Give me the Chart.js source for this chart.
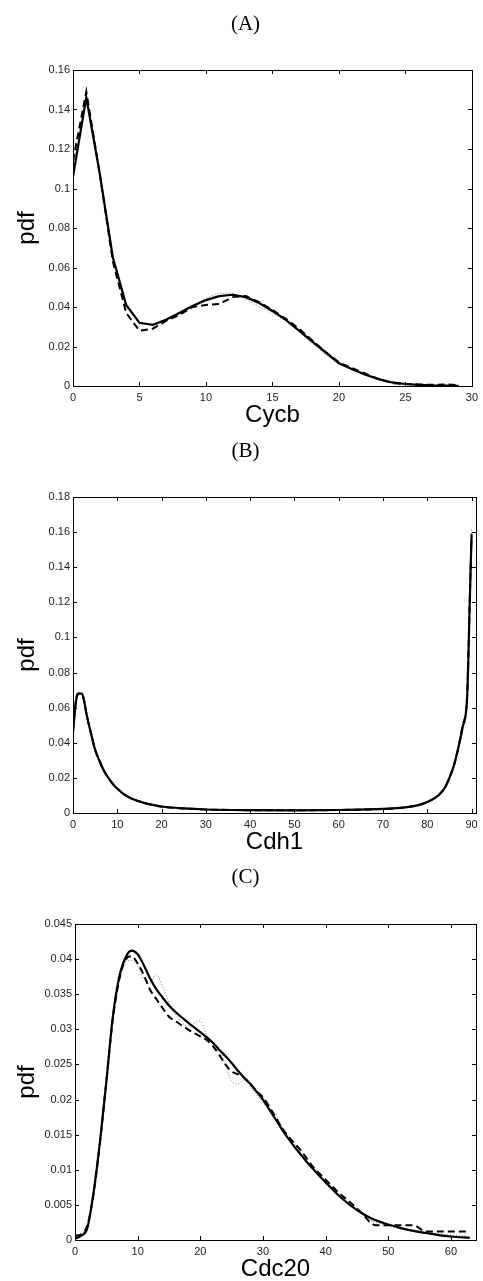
<!DOCTYPE html>
<html>
<head>
<meta charset="utf-8">
<script src="https://cdn.jsdelivr.net/npm/chart.js@4.4.1/dist/chart.umd.min.js"></script>
<style>
  html, body { margin: 0; padding: 0; background: #fff; }
  #wrap { position: relative; width: 483px; height: 1281px; }
  canvas { position: absolute; left: 0; }
</style>
</head>
<body>
<div id="wrap">
  <canvas id="chartA" width="483" height="440" style="top:0px"></canvas>
  <canvas id="chartB" width="483" height="440" style="top:427px"></canvas>
  <canvas id="chartC" width="483" height="427" style="top:854px"></canvas>
</div>
<script>
// (A) Cycb
const cycbX = [0, 1, 2, 3, 4, 5, 6, 7, 8, 9, 10, 11, 12, 13, 14, 15, 16, 17, 18, 19, 20, 21, 22, 23, 24, 25, 26, 27, 28, 29];
const cycbSolid = [0.106, 0.146, 0.108, 0.065, 0.041, 0.032, 0.031, 0.0335, 0.037, 0.0405, 0.0435, 0.0455, 0.0462, 0.045, 0.042, 0.038, 0.0335, 0.028, 0.0225, 0.017, 0.0115, 0.0085, 0.0057, 0.0035, 0.0018, 0.001, 0.0006, 0.0003, 0.0002, 0.0001];
const cycbDashed = [0.114, 0.149, 0.108, 0.063, 0.037, 0.028, 0.029, 0.033, 0.036, 0.040, 0.041, 0.0415, 0.045, 0.0455, 0.0425, 0.0385, 0.034, 0.029, 0.023, 0.0172, 0.012, 0.009, 0.0062, 0.0035, 0.0015, 0.001, 0.0008, 0.0006, 0.0008, 0.0005];
const cycbDotted = [0.110, 0.147, 0.109, 0.066, 0.040, 0.0315, 0.031, 0.034, 0.0375, 0.041, 0.0445, 0.047, 0.047, 0.044, 0.040, 0.037, 0.033, 0.0275, 0.0215, 0.016, 0.0112, 0.008, 0.0055, 0.003, 0.0015, 0.0008, 0.0005, 0.0003, 0.0002, 0.0001];

// (B) Cdh1
const cdh1X = [0, 0.7, 1.2, 2, 2.5, 3, 4, 5, 6, 7, 8, 9, 10, 12, 14, 16, 18, 20, 25, 30, 40, 50, 60, 70, 75, 78, 80, 82, 83, 84, 85, 86, 87, 88, 89, 89.6, 90];
const cdh1Solid = [0.046, 0.064, 0.068, 0.068, 0.064, 0.057, 0.046, 0.036, 0.0295, 0.024, 0.020, 0.0165, 0.0138, 0.0098, 0.0074, 0.0058, 0.0046, 0.0037, 0.0026, 0.0020, 0.0016, 0.0015, 0.0017, 0.0023, 0.0032, 0.0045, 0.0062, 0.0090, 0.0112, 0.0145, 0.0200, 0.027, 0.037, 0.049, 0.066, 0.121, 0.158];
const cdh1Dashed = [0.047, 0.065, 0.068, 0.068, 0.064, 0.057, 0.046, 0.036, 0.0297, 0.024, 0.020, 0.0166, 0.0139, 0.0099, 0.0075, 0.0058, 0.0046, 0.0036, 0.0026, 0.0020, 0.0016, 0.0015, 0.0017, 0.0023, 0.0032, 0.0045, 0.0063, 0.0090, 0.0113, 0.0146, 0.0202, 0.027, 0.037, 0.050, 0.067, 0.122, 0.159];
const cdh1Dotted = [0.045, 0.063, 0.067, 0.068, 0.065, 0.058, 0.047, 0.037, 0.030, 0.0245, 0.0205, 0.017, 0.014, 0.0100, 0.0078, 0.0060, 0.0045, 0.0038, 0.0027, 0.0021, 0.0017, 0.0016, 0.0018, 0.0024, 0.0033, 0.0047, 0.0066, 0.0093, 0.0115, 0.0150, 0.0205, 0.028, 0.038, 0.051, 0.068, 0.125, 0.162];

// (C) Cdc20
const cdc20X = [0, 1, 2, 3, 4, 5, 6, 7, 8, 9, 10, 11, 12, 13, 14, 15, 16, 18, 20, 21, 22, 23, 24, 25, 26, 27, 28, 29, 30, 31, 32, 33, 34, 35, 36, 37, 38, 40, 42, 44, 46, 47, 48, 50, 52, 54, 56, 58, 60, 63];
const cdc20Solid = [0.0002, 0.0006, 0.0018, 0.0070, 0.0141, 0.0225, 0.0315, 0.0372, 0.0401, 0.0412, 0.0407, 0.0391, 0.0372, 0.0357, 0.0345, 0.0334, 0.0325, 0.0310, 0.0296, 0.0289, 0.0281, 0.0271, 0.0262, 0.0252, 0.0241, 0.0231, 0.0222, 0.0211, 0.0200, 0.0186, 0.0172, 0.0158, 0.0145, 0.0133, 0.0122, 0.0111, 0.0101, 0.0082, 0.0064, 0.0049, 0.0037, 0.0032, 0.0028, 0.0022, 0.0017, 0.0013, 0.0010, 0.0007, 0.0005, 0.0003];
const cdc20Dashed = [0.0006, 0.0008, 0.0022, 0.0068, 0.0140, 0.0225, 0.0312, 0.0368, 0.0398, 0.0404, 0.0394, 0.0377, 0.0356, 0.0343, 0.0330, 0.0318, 0.0312, 0.0300, 0.0290, 0.0285, 0.0276, 0.0264, 0.0250, 0.0240, 0.0236, 0.0231, 0.0222, 0.0212, 0.0203, 0.0190, 0.0175, 0.0160, 0.0148, 0.0138, 0.0128, 0.0116, 0.0104, 0.0086, 0.0068, 0.0053, 0.0036, 0.0026, 0.0021, 0.0021, 0.0021, 0.0021, 0.0012, 0.0012, 0.0012, 0.0012];
const cdc20Dotted = [0.0005, 0.0009, 0.0021, 0.0072, 0.0146, 0.0228, 0.0318, 0.0378, 0.0396, 0.0398, 0.0390, 0.0372, 0.0368, 0.0378, 0.0360, 0.0338, 0.0322, 0.0305, 0.0312, 0.0292, 0.0282, 0.0272, 0.0250, 0.0226, 0.0222, 0.0228, 0.0218, 0.0206, 0.0196, 0.0186, 0.0180, 0.0162, 0.0150, 0.0136, 0.0124, 0.0112, 0.0100, 0.0084, 0.0066, 0.0049, 0.0036, 0.0030, 0.0025, 0.0020, 0.0016, 0.0014, 0.0012, 0.0009, 0.0007, 0.0005];

Chart.defaults.font.family = '"Liberation Sans", Arial, sans-serif';
Chart.defaults.color = '#000';

// matlab style box with inward ticks on all four sides
const boxTicks = {
  id: 'boxTicks',
  afterDraw(chart) {
    const { ctx, chartArea: a, scales: { x, y } } = chart;
    ctx.save();
    ctx.strokeStyle = '#000';
    ctx.lineWidth = 1;
    ctx.strokeRect(Math.round(a.left) + 0.5, Math.round(a.top) + 0.5, Math.round(a.right - a.left), Math.round(a.bottom - a.top));
    ctx.beginPath();
    x.ticks.forEach(t => {
      const px = Math.round(x.getPixelForValue(t.value)) + 0.5;
      ctx.moveTo(px, a.bottom); ctx.lineTo(px, a.bottom - 4);
      ctx.moveTo(px, a.top); ctx.lineTo(px, a.top + 4);
    });
    y.ticks.forEach(t => {
      const py = Math.round(y.getPixelForValue(t.value)) + 0.5;
      ctx.moveTo(a.left, py); ctx.lineTo(a.left + 4, py);
      ctx.moveTo(a.right, py); ctx.lineTo(a.right - 4, py);
    });
    ctx.stroke();
    ctx.restore();
  }
};

const toPoints = (xs, ys) => xs.map((v, i) => ({ x: v, y: ys[i] }));

function makeChart(id, opts) {
  new Chart(document.getElementById(id), {
    type: 'line',
    data: {
      datasets: [
        { data: toPoints(opts.xs, opts.solid), borderColor: '#000', borderWidth: 2.2 },
        { data: toPoints(opts.xs, opts.dashed), borderColor: '#000', borderWidth: 2, borderDash: [7, 4] },
        { data: toPoints(opts.xs, opts.dotted), borderColor: '#777', borderWidth: 1, borderDash: [1, 2] }
      ]
    },
    options: {
      responsive: false,
      animation: false,
      devicePixelRatio: 1,
      elements: {
        point: { radius: 0 },
        line: { tension: 0, cubicInterpolationMode: opts.smooth ? 'monotone' : 'default' }
      },
      layout: { padding: { left: 15, right: 7, top: 0, bottom: opts.padBottom } },
      plugins: {
        legend: { display: false },
        tooltip: { enabled: false },
        title: {
          display: true,
          text: opts.title,
          color: '#000',
          font: { family: '"Liberation Serif", "Times New Roman", serif', size: 21, weight: 'normal', lineHeight: 1 },
          padding: { top: opts.titleTop, bottom: 70 - opts.titleTop - 21 }
        }
      },
      scales: {
        x: {
          type: 'linear',
          min: 0,
          max: opts.xMax,
          grid: { display: false, drawTicks: false },
          border: { display: false },
          ticks: { stepSize: opts.xStep, includeBounds: false, padding: 5, font: { size: 11 }, color: '#222', maxRotation: 0 },
          title: { display: true, text: opts.xLabel, padding: 0, font: { size: 24, lineHeight: 1 } },
          afterFit: s => { s.height = 41; }
        },
        y: {
          min: 0,
          max: opts.yMax,
          grid: { display: false, drawTicks: false },
          border: { display: false },
          ticks: {
            stepSize: opts.yStep, includeBounds: false, padding: 3, font: { size: 11 }, color: '#222',
            callback: v => String(+v.toFixed(4))
          },
          title: { display: true, text: 'pdf', padding: 0, font: { size: 24, lineHeight: 1 } },
          afterFit: s => { s.width = opts.yWidth; }
        }
      }
    },
    plugins: [boxTicks]
  });
}

makeChart('chartA', {
  title: '(A)', xLabel: 'Cycb', xs: cycbX, solid: cycbSolid, dashed: cycbDashed, dotted: cycbDotted,
  xMax: 30, xStep: 5, yMax: 0.16, yStep: 0.02, yWidth: 58, padBottom: 13, titleTop: 14, smooth: false
});
makeChart('chartB', {
  title: '(B)', xLabel: 'Cdh1', xs: cdh1X, solid: cdh1Solid, dashed: cdh1Dashed, dotted: cdh1Dotted,
  xMax: 91, xStep: 10, yMax: 0.18, yStep: 0.02, yWidth: 58, padBottom: 13, titleTop: 14, smooth: true
});
makeChart('chartC', {
  title: '(C)', xLabel: 'Cdc20', xs: cdc20X, solid: cdc20Solid, dashed: cdc20Dashed, dotted: cdc20Dotted,
  xMax: 64, xStep: 10, yMax: 0.045, yStep: 0.005, yWidth: 60, padBottom: 0, titleTop: 13, smooth: true
});
</script>
</body>
</html>
